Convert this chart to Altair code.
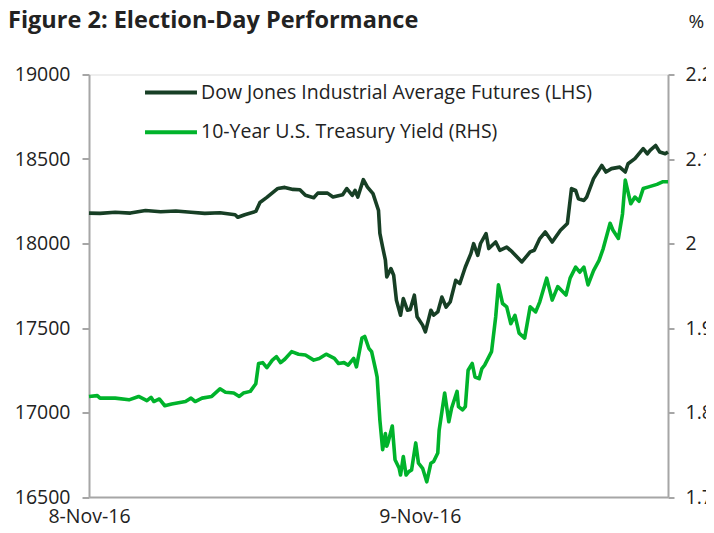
import altair as alt
import pandas as pd

# ---------------- data ----------------
series_names = ["Dow Jones Industrial Average Futures (LHS)", "10-Year U.S. Treasury Yield (RHS)"]
series_colors = ["#173f25", "#00b32b"]

# hours since 8-Nov-16 00:00
dow_hours = [0.0, 0.8, 1.9, 3.0, 4.1, 5.2, 6.3, 7.4, 8.4, 9.5, 10.6, 10.8, 11.3, 12.1, 12.4, 12.9,
             13.7, 14.2, 14.8, 15.3, 15.7, 16.3, 16.6, 17.3, 17.7, 18.4, 18.7, 19.1, 19.3, 19.5,
             19.9, 20.2, 20.6, 21.0, 21.1, 21.3, 21.5, 21.6, 21.9, 22.1, 22.3, 22.6, 22.8, 23.1,
             23.3, 23.6, 23.8, 24.2, 24.4, 24.8, 25.0, 25.3, 25.6, 25.9, 26.2, 26.6, 26.9, 27.3,
             27.7, 27.9, 28.2, 28.4, 28.8, 29.0, 29.5, 29.8, 30.3, 30.7, 31.4, 32.0, 32.3, 32.7,
             33.1, 33.6, 34.2, 34.7, 35.0, 35.3, 35.5, 35.9, 36.1, 36.6, 37.2, 37.5, 37.9, 38.5,
             38.9, 39.1, 39.6, 40.2, 40.5, 40.7, 41.1, 41.4, 41.8, 42.0]
dow_values = [18180, 18178, 18185, 18180, 18195, 18188, 18192, 18185, 18178, 18182, 18170, 18155,
              18170, 18190, 18243, 18273, 18326, 18332, 18320, 18318, 18285, 18271, 18298, 18298,
              18275, 18289, 18325, 18285, 18314, 18275, 18378, 18334, 18295, 18196, 18060, 17979,
              17901, 17802, 17852, 17812, 17664, 17576, 17674, 17605, 17610, 17694, 17566, 17517,
              17477, 17605, 17576, 17595, 17683, 17624, 17654, 17782, 17763, 17861, 17940, 17999,
              17930, 18000, 18059, 17970, 18009, 17960, 17979, 17950, 17891, 17950, 17960, 18029,
              18068, 18009, 18078, 18118, 18325, 18314, 18265, 18255, 18275, 18384, 18462, 18423,
              18443, 18452, 18423, 18472, 18502, 18561, 18531, 18551, 18580, 18541, 18531, 18541]

ust_hours = [0.0, 0.6, 0.8, 1.9, 2.9, 3.6, 4.2, 4.5, 4.7, 5.1, 5.5, 6.0, 7.0, 7.4, 7.7, 8.2, 8.9,
             9.5, 9.9, 10.5, 10.9, 11.2, 11.7, 12.1, 12.3, 12.6, 12.9, 13.3, 13.6, 13.9, 14.2,
             14.7, 15.2, 15.7, 16.3, 16.7, 17.2, 17.8, 18.1, 18.5, 18.8, 19.2, 19.4, 19.8, 20.0,
             20.3, 20.5, 20.8, 20.9, 21.1, 21.3, 21.5, 21.6, 21.7, 22.0, 22.2, 22.5, 22.6, 22.8,
             23.0, 23.2, 23.4, 23.7, 23.9, 24.2, 24.5, 24.8, 25.0, 25.3, 25.4, 25.8, 26.1, 26.3,
             26.7, 26.8, 27.1, 27.3, 27.5, 27.8, 28.0, 28.3, 28.5, 28.7, 29.2, 29.5, 29.7, 30.0,
             30.3, 30.6, 30.9, 31.2, 31.6, 32.0, 32.4, 32.7, 33.2, 33.6, 34.0, 34.6, 34.9, 35.3,
             35.6, 35.9, 36.2, 36.6, 37.0, 37.3, 37.8, 38.0, 38.4, 38.7, 38.9, 39.3, 39.6, 39.9,
             40.2, 40.6, 41.2, 41.6, 42.0]
ust_values = [1.819, 1.820, 1.817, 1.817, 1.815, 1.819, 1.814, 1.818, 1.813, 1.816, 1.808, 1.810,
              1.813, 1.817, 1.813, 1.817, 1.819, 1.828, 1.824, 1.823, 1.819, 1.823, 1.825, 1.834,
              1.858, 1.859, 1.853, 1.862, 1.866, 1.859, 1.863, 1.872, 1.869, 1.868, 1.862, 1.864,
              1.869, 1.864, 1.858, 1.859, 1.856, 1.864, 1.854, 1.888, 1.890, 1.876, 1.872, 1.850,
              1.842, 1.791, 1.756, 1.775, 1.760, 1.765, 1.784, 1.744, 1.734, 1.726, 1.748, 1.726,
              1.730, 1.732, 1.764, 1.740, 1.734, 1.718, 1.740, 1.742, 1.752, 1.779, 1.823, 1.789,
              1.805, 1.825, 1.807, 1.803, 1.807, 1.850, 1.858, 1.842, 1.840, 1.852, 1.856, 1.872,
              1.913, 1.951, 1.929, 1.925, 1.905, 1.915, 1.894, 1.888, 1.925, 1.919, 1.931, 1.959,
              1.933, 1.949, 1.939, 1.959, 1.972, 1.966, 1.972, 1.951, 1.968, 1.980, 1.994, 2.024,
              2.016, 2.006, 2.035, 2.075, 2.047, 2.055, 2.050, 2.065, 2.067, 2.070, 2.073, 2.073]

day_ticks = [0, 24]
day_labels = ["8-Nov-16", "9-Nov-16"]
left_ticks = [16500, 17000, 17500, 18000, 18500, 19000]
right_ticks = [1.7, 1.8, 1.9, 2.0, 2.1, 2.2]

# ---------------- chart ----------------
FONT = "Open Sans"
TXT = "#222222"
AXC = "#a6a6a6"

dow_df = pd.DataFrame({"hour": dow_hours, "value": dow_values, "series": series_names[0]})
ust_df = pd.DataFrame({"hour": ust_hours, "value": ust_values, "series": series_names[1]})

label_expr = " : ".join(
    [f"datum.value == {v} ? '{l}'" for v, l in zip(day_ticks[:-1], day_labels[:-1])]
) + f" : '{day_labels[-1]}'"

x_enc = alt.X(
    "hour:Q",
    scale=alt.Scale(domain=[0, 42.0], nice=False, zero=False),
    axis=alt.Axis(values=day_ticks, labelExpr=label_expr, ticks=False, grid=False, title=None,
                  labelFont=FONT, labelFontSize=19.5, labelColor=TXT, labelPadding=10,
                  domainColor=AXC, domainWidth=2, labelFlush=False),
)

color_enc = alt.Color(
    "series:N",
    scale=alt.Scale(domain=series_names, range=series_colors),
    legend=alt.Legend(
        title=None, orient="none", legendX=54, legendY=-10, direction="vertical",
        symbolType="stroke", symbolSize=2700, symbolStrokeWidth=4,
        labelFont=FONT, labelFontSize=19.5, labelColor=TXT, labelLimit=600,
        labelOffset=2, rowPadding=1.7, padding=0,
    ),
)

left = alt.Chart(dow_df).mark_line(strokeWidth=3.6, strokeJoin="round").encode(
    x=x_enc,
    y=alt.Y(
        "value:Q",
        scale=alt.Scale(domain=[16500, 19000], nice=False, zero=False),
        axis=alt.Axis(orient="left", values=left_ticks, format="d", grid=False, title=None,
                      labelFont=FONT, labelFontSize=19.5, labelColor=TXT, labelPadding=12,
                      tickSize=7, tickColor=AXC, tickWidth=2, domainColor=AXC, domainWidth=2),
    ),
    color=color_enc,
)

right = alt.Chart(ust_df).mark_line(strokeWidth=3.6, strokeJoin="round").encode(
    x=x_enc,
    y=alt.Y(
        "value:Q",
        scale=alt.Scale(domain=[1.7, 2.2], nice=False, zero=False),
        axis=alt.Axis(orient="right", values=right_ticks, format="~g", grid=False,
                      title="%", titleAngle=0, titleAlign="left", titleBaseline="alphabetic",
                      titleX=20, titleY=-47.5, titleFont=FONT, titleFontSize=19,
                      titleFontWeight="normal", titleColor=TXT,
                      labelFont=FONT, labelFontSize=19.5, labelColor=TXT, labelPadding=11,
                      tickSize=6, tickColor=AXC, tickWidth=2, domainColor=AXC, domainWidth=2),
    ),
    color=color_enc,
)

chart = (
    alt.layer(left, right)
    .resolve_scale(y="independent")
    .properties(
        width=579,
        height=422.5,
        autosize="none",
        padding={"left": 81, "top": 66.5, "right": 38, "bottom": 30},
        title=alt.TitleParams(
            "Figure 2: Election-Day Performance", anchor="start", frame="group",
            font=FONT, fontSize=23.5, fontWeight="bold", color=TXT, dx=-81, dy=20, offset=0,
        ),
    )
    .configure_view(stroke=None)
    .configure(background="white")
)

chart.save("out.html", embed_options={"renderer": "svg", "actions": False})
